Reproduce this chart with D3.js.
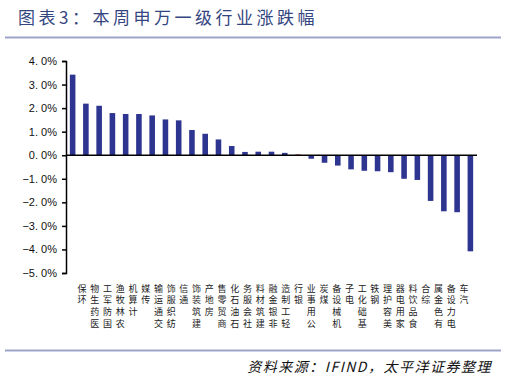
<!DOCTYPE html>
<html>
<head>
<meta charset="utf-8">
<script src="https://cdn.jsdelivr.net/npm/d3@7"></script>
<style>
    body { margin: 0; background: #fff; }
    svg { display: block; }
</style>
</head>
<body>
<svg id="chart"></svg>
<script>
// industries, sorted by weekly change
let industries = ['环保', '医药生物', '国防军工', '农林牧渔', '计算机', '传媒', '交通运输', '纺织服饰',
    '通信', '建筑装饰', '房地产', '商贸零售', '石油石化', '社会服务', '建筑材料', '非银金融', '轻工制造',
    '银行', '公用事业', '煤炭', '机械设备', '电子', '基础化工', '钢铁', '美容护理', '家用电器',
    '食品饮料', '综合', '有色金属', '电力设备', '汽车'];
let changes = [3.42, 2.19, 2.10, 1.79, 1.75, 1.75, 1.69, 1.52, 1.48, 1.07, 0.91, 0.67, 0.39, 0.14, 0.15,
    0.15, 0.10, 0.03, -0.15, -0.32, -0.44, -0.60, -0.66, -0.68, -0.72, -1.00, -1.05, -1.94, -2.38, -2.42, -4.08];
let highlight = ['银行'];
let yTicks = [4, 3, 2, 1, 0, -1, -2, -3, -4, -5];

let width = 507;
let height = 377;
let margin = {
    top: 61,
    bot: 104,
    left: 66,
    right: 30
};
let config = {
    margin: margin,
    bodyWidth: width - margin.left - margin.right,
    bodyHeight: height - margin.top - margin.bot
};

let svg = d3.select('#chart')
    .attr('width', width)
    .attr('height', height);

// header
svg.append('text')
    .attr('x', 18)
    .attr('y', 24)
    .attr('fill', '#34467f')
    .style('font-family', '"Noto Sans CJK SC"')
    .style('font-size', '17px')
    .style('letter-spacing', '3.5px')
    .text('图表3：本周申万一级行业涨跌幅');
svg.append('line')
    .attr('x1', 5).attr('x2', 501)
    .attr('y1', 37.5).attr('y2', 37.5)
    .attr('stroke', '#9fa3c9')
    .attr('stroke-width', 2);
svg.append('line')
    .attr('x1', 5).attr('x2', 501)
    .attr('y1', 350.5).attr('y2', 350.5)
    .attr('stroke', '#9fa3c9')
    .attr('stroke-width', 2);
svg.append('text')
    .attr('x', 492)
    .attr('y', 372)
    .attr('text-anchor', 'end')
    .attr('fill', '#111')
    .style('font-family', '"Noto Sans CJK SC"')
    .style('font-style', 'italic')
    .style('font-size', '14px')
    .style('letter-spacing', '1.5px')
    .text('资料来源：IFIND，太平洋证券整理');

let xScale = d3.scaleBand()
    .domain(industries)
    .range([0, config.bodyWidth])
    .paddingInner(0.58)
    .paddingOuter(0.29);
let labelScale = d3.scalePoint()
    .domain(industries)
    .range([16, 398]);
let yScale = d3.scaleLinear()
    .domain([-5, 4])
    .range([config.bodyHeight, 0]);

let body = svg.append('g')
    .attr('transform', `translate(${margin.left},${margin.top})`);

body.selectAll('rect.bar')
    .data(industries)
    .enter()
    .append('rect')
    .attr('class', 'bar')
    .attr('x', d => xScale(d))
    .attr('width', xScale.bandwidth())
    .attr('y', (d, i) => yScale(Math.max(0, changes[i])))
    .attr('height', (d, i) => Math.abs(yScale(changes[i]) - yScale(0)))
    .attr('fill', d => highlight.includes(d) ? '#c0181f' : '#2e3590');

// y axis
let yAx = d3.axisLeft(yScale)
    .tickValues(yTicks)
    .tickSize(4)
    .tickFormat(d => d3.format('.1f')(d).replace('.', '. ').replace('-', '−') + '%');
let yAxGroup = body.append('g').call(yAx);
yAxGroup.select('.domain').attr('stroke', '#000').attr('stroke-width', 1.5);
yAxGroup.selectAll('.tick line').attr('stroke', '#000').attr('stroke-width', 1.5);
yAxGroup.selectAll('.tick text')
    .attr('x', -9)
    .attr('fill', '#111')
    .style('font-family', '"Liberation Sans", Arial, sans-serif')
    .style('font-size', '11px');

// zero line
body.append('line')
    .attr('x1', 0)
    .attr('x2', config.bodyWidth)
    .attr('y1', yScale(0))
    .attr('y2', yScale(0))
    .attr('stroke', '#000')
    .attr('stroke-width', 1.5);

// category labels, upright characters reading bottom to top
let labels = body.append('g')
    .attr('transform', `translate(0,${config.bodyHeight})`);
industries.forEach(name => {
    let chars = Array.from(name).reverse();
    labels.selectAll(null)
        .data(chars)
        .enter()
        .append('text')
        .attr('x', labelScale(name))
        .attr('y', (c, k) => 18.5 + k * 11.7)
        .attr('text-anchor', 'middle')
        .attr('fill', '#222')
        .style('font-family', '"Noto Sans CJK SC"')
        .style('font-size', '9px')
        .text(c => c);
});
</script>
</body>
</html>
